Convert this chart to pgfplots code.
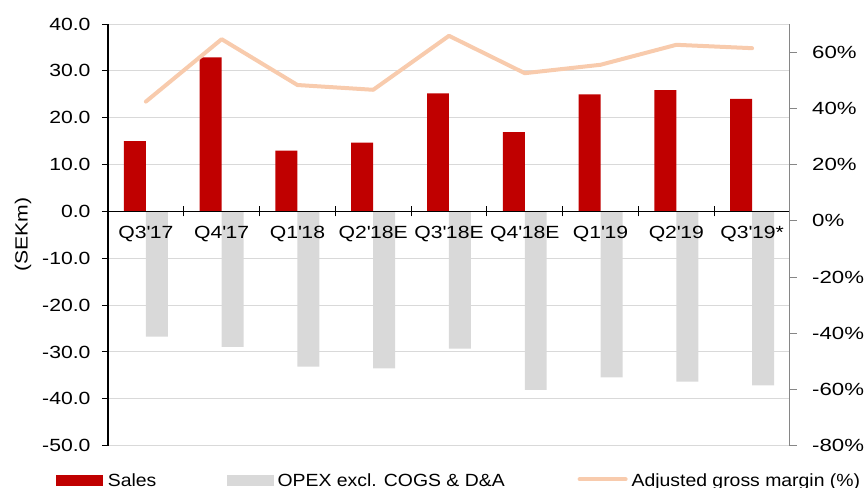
\documentclass[border=0pt]{standalone}
\usepackage{fontspec}
\setmainfont{Liberation Sans}
\newfontfamily\tickfam{Liberation Sans}[FakeStretch=1.2]
\newfontfamily\pctfam{Liberation Sans}[FakeStretch=1.26]
\newfontfamily\legfam{Liberation Sans}[FakeStretch=1.1]
\usepackage{pgfplots}
\usepackage{pgfplotstable}
\pgfplotsset{compat=1.18}
\definecolor{salesred}{HTML}{C00000}
\definecolor{opexgray}{HTML}{D9D9D9}
\definecolor{peach}{HTML}{F8CBAD}
\definecolor{gridgray}{HTML}{D9D9D9}
\definecolor{axgray}{HTML}{868686}
\newcommand{\tickfont}{\tickfam\fontsize{17.7}{21}\selectfont}
\newcommand{\pctfont}{\pctfam\fontsize{17.7}{21}\selectfont}
\newcommand{\legfont}{\legfam\fontsize{17.7}{21}\selectfont}

\pgfplotstableread{
x sales opex margin
0 15.0 -26.7 42.4
1 32.9 -28.9 64.6
2 13.0 -33.1 48.3
3 14.7 -33.5 46.6
4 25.2 -29.3 65.8
5 16.9 -38.1 52.5
6 25.0 -35.4 55.5
7 25.9 -36.3 62.6
8 24.0 -37.1 61.4
}\datatable

\pgfplotsset{base/.style={
  at={(0,0)}, anchor=south west,
  width=682bp, height=421.7bp, scale only axis,
  xmin=-0.5, xmax=8.5,
  /pgf/number format/assume math mode=true,
}}

\begin{document}
\begin{tikzpicture}
\path[use as bounding box] (-108bp,-42.3bp) rectangle (759bp,445.7bp);
% left axis, grid and bars
\begin{axis}[base,
  ymin=-50, ymax=40,
  axis x line=none, axis y line*=left,
  ytick={-50,-40,...,40},
  ymajorgrids, grid style={gridgray, line width=1bp},
  tick align=outside, major tick length=6bp,
  tick style={black, line width=1bp},
  y axis line style={black, line width=1.3bp},
  tick label style={font=\tickfont},
  yticklabel style={/pgf/number format/fixed, /pgf/number format/fixed zerofill, /pgf/number format/precision=1, xshift=-8bp},
  ylabel={(SEKm)}, ylabel style={font=\tickfont, at={(axis description cs:-0.1246,0.5)}, anchor=center},
]
\addplot[ybar, bar width=0.29, bar shift=-0.145, fill=salesred, draw=none] table[x=x,y=sales]{\datatable};
\addplot[ybar, bar width=0.29, bar shift=0.145, fill=opexgray, draw=none] table[x=x,y=opex]{\datatable};
\end{axis}
% category axis on top of the bars
\begin{axis}[base,
  ymin=-50, ymax=40,
  axis x line*=middle, axis y line=none,
  xtick={0,...,8},
  xticklabels={Q3\textquotesingle 17,Q4\textquotesingle 17,Q1\textquotesingle 18,Q2\textquotesingle 18E,Q3\textquotesingle 18E,Q4\textquotesingle 18E,Q1\textquotesingle 19,Q2\textquotesingle 19,Q3\textquotesingle 19*},
  minor xtick={-0.5,0.5,...,8.5},
  tick align=center, major tick length=0bp, minor tick length=10bp,
  tick style={black, line width=1bp},
  x axis line style={black, line width=1.3bp},
  tick label style={font=\tickfont},
  xticklabel style={yshift=-11bp},
]
\end{axis}
% right axis, margin line and legend
\begin{axis}[base,
  ymin=-80, ymax=70,
  axis x line=none, axis y line*=right,
  ytick={-80,-60,...,60},
  yticklabel={\pgfmathprintnumber{\tick}\%},
  y axis line style={axgray, line width=1bp},
  tick style={axgray, line width=1bp},
  tick align=outside, major tick length=7bp,
  tick label style={font=\pctfont},
  yticklabel style={xshift=11.7bp},
  legend style={draw=none, fill=none, at={(-0.0762,-0.0823)}, anchor=west,
    font=\legfont, inner sep=0pt, column sep=0pt, nodes={inner sep=0pt}},
  legend columns=-1,
]
\addlegendimage{legend image code/.code={\fill[salesred] (0bp,-4.3bp) rectangle (46bp,5.7bp);}}
\addlegendentry{\hspace*{5.3bp}\makebox[119bp][l]{Sales}}
\addlegendimage{legend image code/.code={\fill[opexgray] (0bp,-4.3bp) rectangle (46bp,5.7bp);}}
\addlegendentry{\hspace*{4.3bp}\makebox[300bp][l]{OPEX excl. COGS \& D\&A}}
\addplot[peach, line width=4bp, line join=round, line cap=round,
  legend image code/.code={\draw[peach, line width=4bp] (0bp,1.2bp) -- (46bp,1.2bp);}] table[x=x,y=margin]{\datatable};
\addlegendentry{\hspace*{4bp}Adjusted gross margin (\%)}
\end{axis}
\end{tikzpicture}
\end{document}
